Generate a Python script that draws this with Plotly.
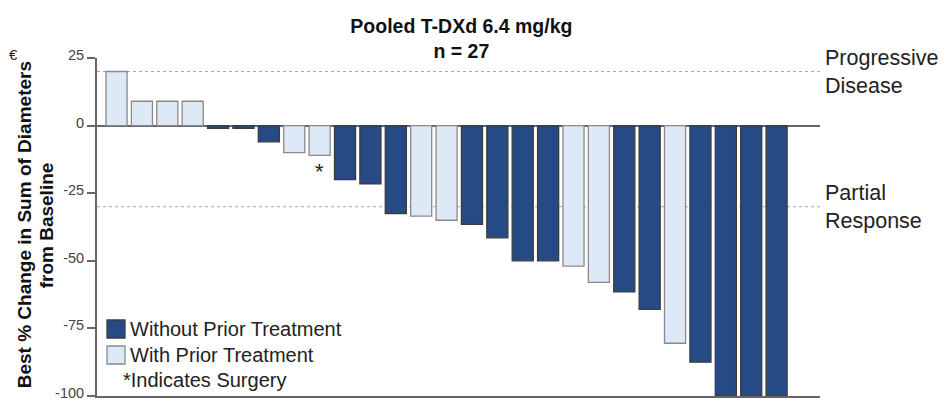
import plotly.graph_objects as go

# ---- data ----
patients = list(range(1, 28))
best_change = [20, 9, 9, 9, -1, -1, -6, -10, -11, -20, -21.5, -32.5, -33.5, -35,
               -36.5, -41.5, -50, -50, -52, -58, -61.5, -68, -80.5, -87.5, -100, -100, -100]
prior_treatment = [1, 1, 1, 1, 0, 0, 0, 1, 1, 0, 0, 0, 1, 1,
                   0, 0, 0, 0, 1, 1, 0, 0, 1, 0, 0, 0, 0]
surgery = [0, 0, 0, 0, 0, 0, 0, 0, 1, 0, 0, 0, 0, 0,
           0, 0, 0, 0, 0, 0, 0, 0, 0, 0, 0, 0, 0]
pd_threshold = 20
pr_threshold = -30
y_ticks = [25, 0, -25, -50, -75, -100]
group_names = ["Without Prior Treatment", "With Prior Treatment"]

DARK = "#254a85"
LIGHT = "#dde9f6"
DARK_EDGE = "#3c3c3c"
LIGHT_EDGE = "#8a8a8a"
AXIS = "#666666"
FONT = "Liberation Sans, Arial, sans-serif"

# the page body adds an 8px offset, so the figure is 8px smaller than the window
W, H = 943, 394

fig = go.Figure()

styles = [(0, group_names[0], DARK, DARK_EDGE), (1, group_names[1], LIGHT, LIGHT_EDGE)]
for flag, name, color, edge in styles:
    xs = [p for p, f in zip(patients, prior_treatment) if f == flag]
    ys = [v for v, f in zip(best_change, prior_treatment) if f == flag]
    fig.add_trace(go.Bar(
        x=xs, y=ys, name=name, showlegend=False,
        marker=dict(color=color, line=dict(color=edge, width=1.3)),
        width=0.83,
    ))

# surgery asterisks
for p, v, s in zip(patients, best_change, surgery):
    if s:
        fig.add_annotation(x=p, y=v, text="*", showarrow=False, yanchor="top",
                           yshift=-2, font=dict(size=22, color="#222", family=FONT))

# threshold lines
for thr in (pd_threshold, pr_threshold):
    fig.add_shape(type="line", xref="paper", x0=0, x1=1.003, yref="y", y0=thr, y1=thr,
                  line=dict(color="#a8a8a8", width=1, dash="dot"), layer="below")

fig.add_annotation(xref="paper", x=1, xshift=3, yref="y", y=pd_threshold, yshift=0,
                   text="Progressive<br>Disease", showarrow=False, xanchor="left",
                   yanchor="middle", align="left",
                   font=dict(size=21.5, color="#222", family=FONT))
fig.add_annotation(xref="paper", x=1, xshift=3, yref="y", y=pr_threshold, yshift=0,
                   text="Partial<br>Response", showarrow=False, xanchor="left",
                   yanchor="middle", align="left",
                   font=dict(size=21.5, color="#222", family=FONT))

# manual legend (swatches + labels)
legend_rows = [(67, DARK, DARK_EDGE, group_names[0]), (41, LIGHT, LIGHT_EDGE, group_names[1])]
for off, color, edge, label in legend_rows:
    fig.add_shape(type="rect", xref="paper", xsizemode="pixel", xanchor=0, x0=10, x1=28,
                  yref="paper", ysizemode="pixel", yanchor=0, y0=off - 9, y1=off + 9,
                  fillcolor=color, line=dict(color=edge, width=1.3))
    fig.add_annotation(xref="paper", x=0, xshift=31, yref="paper", y=0, yshift=off,
                       text=label, showarrow=False, xanchor="left", yanchor="middle",
                       font=dict(size=20, color="#222", family=FONT))
fig.add_annotation(xref="paper", x=0, xshift=24, yref="paper", y=0, yshift=16,
                   text="*Indicates Surgery", showarrow=False, xanchor="left",
                   yanchor="middle", font=dict(size=20, color="#222", family=FONT))

# y-axis title (two tightly spaced lines)
fig.add_annotation(xref="paper", x=0, xshift=-73, yref="paper", y=0.505,
                   text="<b>Best % Change in Sum of Diameters</b>", textangle=-90,
                   showarrow=False, xanchor="center", yanchor="middle",
                   font=dict(size=19, color="#111", family=FONT))
fig.add_annotation(xref="paper", x=0, xshift=-51, yref="paper", y=0.505,
                   text="<b>from Baseline</b>", textangle=-90,
                   showarrow=False, xanchor="center", yanchor="middle",
                   font=dict(size=19, color="#111", family=FONT))

fig.add_annotation(xref="paper", x=0, xshift=-90, yref="paper", y=1, yshift=4,
                   text="€", showarrow=False, xanchor="left", yanchor="middle",
                   font=dict(size=15, color="#222", family=FONT))

fig.update_layout(
    width=W, height=H,
    margin=dict(l=89, r=131, t=50, b=6, autoexpand=False),
    paper_bgcolor="white", plot_bgcolor="white",
    font=dict(family=FONT, color="#222"),
    title=dict(text="<b>Pooled T-DXd 6.4 mg/kg<br>n = 27</b>", x=0.504, xref="paper",
               xanchor="center", yref="container", y=1 - 25 / H, yanchor="middle",
               font=dict(size=19.5, color="#111", family=FONT)),
    bargap=0.17,
    showlegend=False,
    xaxis=dict(range=[0.23, 28.71], showticklabels=False, ticks="", showgrid=False,
               zeroline=False, showline=True, linecolor=AXIS, linewidth=2,
               automargin=False),
    yaxis=dict(range=[-100, 25], tickvals=y_ticks, ticktext=[str(t) for t in y_ticks],
               showgrid=False, zeroline=True, zerolinecolor=AXIS, zerolinewidth=2,
               showline=True, linecolor=AXIS, linewidth=2, ticks="outside",
               ticklen=8, tickcolor=AXIS, tickwidth=2, automargin=False,
               ticklabeloverflow="allow", ticklabelshift=-3,
               tickfont=dict(size=14.5, color="#444", family=FONT)),
)

fig.write_html("out.html")
